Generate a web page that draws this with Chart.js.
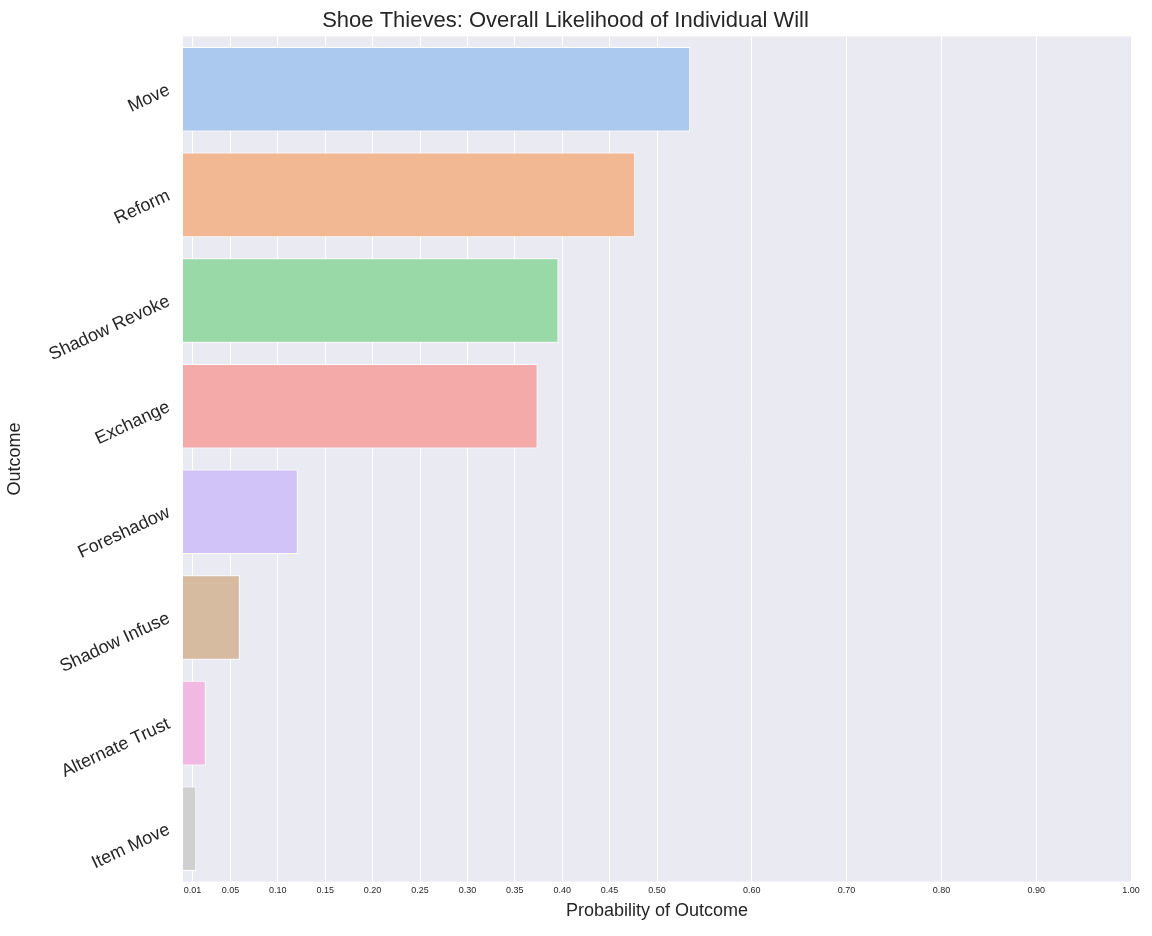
<!DOCTYPE html>
<html><head><meta charset="utf-8">
<script src="https://cdn.jsdelivr.net/npm/chart.js@4/dist/chart.umd.min.js"></script>
<style>html,body{margin:0;padding:0;background:#fff}</style>
</head><body><canvas id="c" width="1152" height="936"></canvas>
<script>
const outcomes = ["Move","Reform","Shadow Revoke","Exchange","Foreshadow","Shadow Infuse","Alternate Trust","Item Move"];
const probabilities = [0.535,0.477,0.396,0.374,0.121,0.060,0.024,0.014];
const barColors = ["#abc9ef","#f1b893","#99d9a8","#f3aaa9","#d1c3f8","#d6bba1","#f1b9e1","#d0d0d0"];
const tickValues = [0.01,0.05,0.10,0.15,0.20,0.25,0.30,0.35,0.40,0.45,0.50,0.60,0.70,0.80,0.90,1.00];
const fontFam = "'Liberation Sans', Arial, sans-serif";

const bgPlugin = {
  id: "bg",
  beforeDraw(chart) {
    const a = chart.chartArea, ctx = chart.ctx;
    ctx.save();
    ctx.fillStyle = "#eaeaf2";
    ctx.fillRect(a.left, a.top, a.right - a.left, a.bottom - a.top);
    ctx.restore();
  }
};

new Chart(document.getElementById("c"), {
  type: "bar",
  data: {
    labels: outcomes,
    datasets: [{
      data: probabilities,
      backgroundColor: barColors,
      borderColor: "#ffffff",
      borderWidth: 1,
      categoryPercentage: 1,
      barPercentage: 0.8
    }]
  },
  plugins: [bgPlugin],
  options: {
    indexAxis: "y",
    responsive: false,
    animation: false,
    devicePixelRatio: 1,
    layout: { padding: { left: 0, right: 21, top: 0, bottom: 10 } },
    plugins: {
      legend: { display: false },
      tooltip: { enabled: false },
      title: {
        display: true,
        text: "Shoe Thieves: Overall Likelihood of Individual Will",
        color: "#262626",
        font: { family: fontFam, size: 22, weight: "normal" },
        padding: { top: 8, bottom: 2 }
      }
    },
    scales: {
      x: {
        type: "linear",
        min: 0, max: 1,
        afterBuildTicks(axis) { axis.ticks = tickValues.map(v => ({ value: v })); },
        ticks: {
          callback: v => v.toFixed(2),
          color: "#262626",
          font: { family: fontFam, size: 9 },
          maxRotation: 0, autoSkip: false, padding: 4
        },
        grid: { color: "#ffffff", lineWidth: 1, drawTicks: false },
        border: { display: false },
        title: {
          display: true, text: "Probability of Outcome", color: "#262626",
          font: { family: fontFam, size: 18 }, padding: { top: 0 }
        }
      },
      y: {
        afterFit(axis) { axis.width = 183; },
        ticks: {
          color: "#262626",
          font: { family: fontFam, size: 18 },
          minRotation: 25, maxRotation: 25, padding: 6, autoSkip: false
        },
        grid: { display: false },
        border: { display: false },
        title: {
          display: true, text: "Outcome", color: "#262626",
          font: { family: fontFam, size: 18 }
        }
      }
    }
  }
});
</script>
</body></html>
